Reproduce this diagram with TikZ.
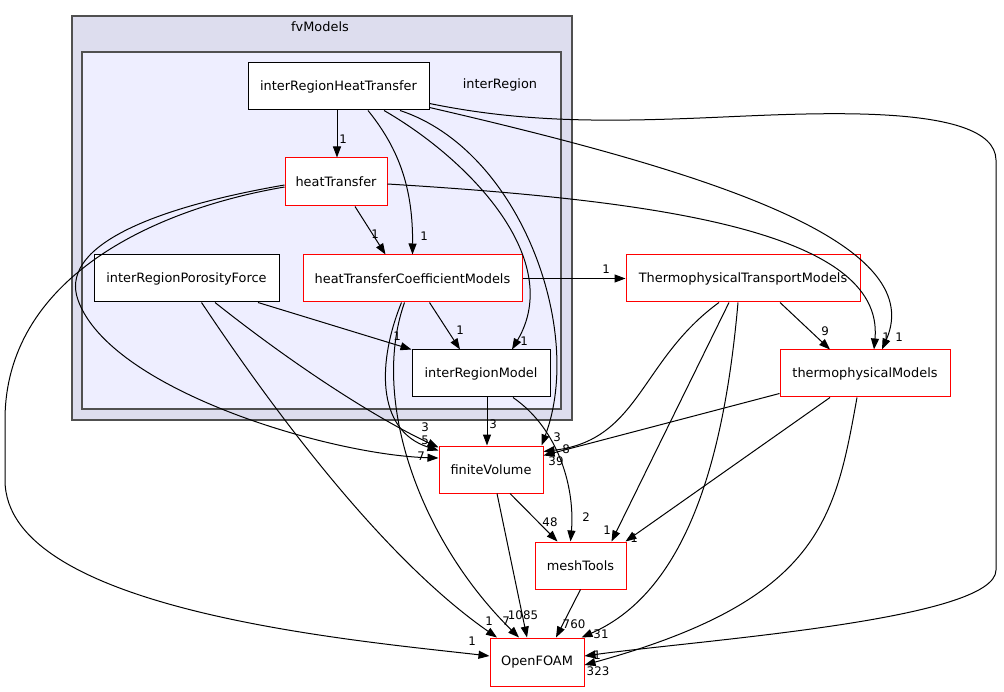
\documentclass[tikz,border=0pt]{standalone}
\usepackage{fontspec}
\setmainfont{DejaVu Sans}
\usetikzlibrary{arrows.meta,calc}
\definecolor{outerfill}{HTML}{DDDDEE}
\definecolor{innerfill}{HTML}{EEEEFF}
\definecolor{clusline}{HTML}{505050}
\begin{document}
\begin{tikzpicture}[x=1pt,y=-1pt,
 box/.style={draw=black,fill=white,line width=1pt,inner sep=0pt,font=\fontsize{12.9}{14}\selectfont},
 rbox/.style={box,draw=red},
 edge/.style={line width=1pt,-{Triangle[length=11pt,width=8pt]}},
 lbl/.style={font=\fontsize{11.8}{13}\selectfont,inner sep=0pt},
 clus/.style={draw=clusline,line width=1.5pt},
 clab/.style={font=\fontsize{12.9}{14}\selectfont,inner sep=0pt}]
\useasboundingbox (0,0) rectangle (1004,692);
% clusters
\draw[clus,fill=outerfill] (72,16) rectangle (572,420);
\node[clab] (fvm) at (320,27) {fvModels};
\draw[clus,fill=innerfill] (82,52) rectangle (561,409);
\node[clab] (ir) at (500,85) {interRegion};
% nodes
\node[box,minimum width=181pt,minimum height=47pt] (irht) at (338.5,86.5) {interRegionHeatTransfer};
\node[rbox,minimum width=102pt,minimum height=48pt] (ht) at (336,182) {heatTransfer};
\node[box,minimum width=185pt,minimum height=47pt] (irpf) at (186.5,278.5) {interRegionPorosityForce};
\node[rbox,minimum width=219pt,minimum height=47pt] (htcm) at (412.5,278.5) {heatTransferCoefficientModels};
\node[box,minimum width=138pt,minimum height=47pt] (irm) at (481,373.5) {interRegionModel};
\node[rbox,minimum width=234pt,minimum height=47pt] (ttm) at (743,278.5) {ThermophysicalTransportModels};
\node[rbox,minimum width=170pt,minimum height=47pt] (tm) at (865,373.5) {thermophysicalModels};
\node[rbox,minimum width=104pt,minimum height=47pt] (fv) at (491,469.5) {finiteVolume};
\node[rbox,minimum width=91pt,minimum height=47pt] (mt) at (580.5,565.5) {meshTools};
\node[rbox,minimum width=94pt,minimum height=48pt] (of) at (537,662) {OpenFOAM};
% edges from interRegionHeatTransfer
\draw[edge] ([xshift=-1.5pt]irht.south) -- ([xshift=1pt]ht.north);
\node[lbl] (l1) at (343,139) {1};
\draw[edge] ([xshift=29.5pt]irht.south) .. controls (400,150) and (413,190) .. (htcm.north);
\node[lbl] (l2) at (424,236) {1};
\draw[edge] ([xshift=45.5pt]irht.south) .. controls (470,160) and (565,260) .. ([xshift=31pt]irm.north);
\node[lbl] (l3) at (524,341) {1};
\draw[edge] ([xshift=61.5pt]irht.south) .. controls (520,150) and (585,330) .. ([xshift=-2pt]fv.north east);
\node[lbl] (l4) at (557,437) {3};
\draw[edge] ([yshift=-21pt]irht.east) .. controls (700,170) and (930,240) .. ([xshift=17pt]tm.north);
\node[lbl] (l5) at (899,337) {1};
\draw[edge] ([yshift=-17pt]irht.east) .. controls (520,122) and (600,122) .. (700,118)
  .. controls (800,114) and (995,100) .. (996,160) -- (996,570)
  .. controls (996,620) and (700,640) .. ([yshift=6pt]of.east);
\node[lbl] (l6) at (597,655) {1};
% edges from heatTransfer
\draw[edge] ([xshift=19pt]ht.south) -- ([xshift=-27pt]htcm.north);
\node[lbl] (l7) at (375,234) {1};
\draw[edge] ([yshift=-2pt]ht.east) .. controls (650,200) and (885,230) .. ([xshift=9pt]tm.north);
\node[lbl] (l8) at (886,337) {1};
\draw[edge] ([yshift=-3pt]ht.west) .. controls (140,210) and (60,250) .. (78,300)
  .. controls (110,390) and (330,455) .. ([yshift=11.5pt]fv.west);
\node[lbl] (l9) at (421,456) {7};
\draw[edge] ([yshift=-5pt]ht.west) .. controls (150,210) and (5,280) .. (5,420) -- (5,480)
  .. controls (5,610) and (350,640) .. ([yshift=6pt]of.west);
\node[lbl] (l10) at (472,641) {1};
% edges from interRegionPorosityForce
\draw[edge] ([xshift=71.5pt]irpf.south) -- (irm.north west);
\node[lbl] (l11) at (397,336) {1};
\draw[edge] ([xshift=28.5pt]irpf.south) .. controls (300,370) and (380,420) .. ([yshift=-2pt]fv.north west);
\node[lbl] (l12) at (425,427) {3};
\draw[edge] ([xshift=15pt]irpf.south) .. controls (300,450) and (400,570) .. ([xshift=-40pt]of.north);
\node[lbl] (l13) at (489,621) {1};
% edges from heatTransferCoefficientModels
\draw[edge] (htcm.east) -- (ttm.west);
\node[lbl] (l14) at (606,269) {1};
\draw[edge] ([xshift=17pt]htcm.south) -- ([xshift=-21pt]irm.north);
\node[lbl] (l15) at (460,330) {1};
\draw[edge] ([xshift=-11pt]htcm.south) .. controls (378,360) and (375,430) .. ([yshift=-5pt]fv.north west);
\node[lbl] (l16) at (425,440) {5};
\draw[edge] ([xshift=-8pt]htcm.south) .. controls (370,400) and (420,540) .. ([xshift=-18pt]of.north);
\node[lbl] (l17) at (506,621) {7};
% edges from ThermophysicalTransportModels
\draw[edge] ([xshift=37pt]ttm.south) -- ([xshift=-35pt]tm.north);
\node[lbl] (l18) at (825,331) {9};
\draw[edge] ([xshift=-24pt]ttm.south) .. controls (640,360) and (640,440) .. ([yshift=-6pt]fv.north east);
\node[lbl] (l19) at (566,449) {8};
\draw[edge] ([xshift=-14pt]ttm.south) -- ([xshift=31pt]mt.north);
\node[lbl] (l20) at (607,530) {1};
\draw[edge] ([xshift=-5pt]ttm.south) .. controls (725,450) and (690,590) .. ([xshift=-3pt]of.north east);
\node[lbl] (l21) at (601,634) {31};
% edges from thermophysicalModels
\draw[edge] ([yshift=-20pt]tm.west) -- ([yshift=-10pt]fv.north east);
\node[lbl] (l22) at (556,461) {39};
\draw[edge] ([xshift=-35pt]tm.south) -- ([xshift=45pt]mt.north);
\node[lbl] (l23) at (634,538) {1};
\draw[edge] ([xshift=-8pt]tm.south) .. controls (835,520) and (820,600) .. ([yshift=-3pt]of.east);
\node[lbl] (l24) at (598,671) {323};
% edges from interRegionModel
\draw[edge] ([xshift=6pt]irm.south) -- ([xshift=-4pt]fv.north);
\node[lbl] (l25) at (493,424) {3};
\draw[edge] ([xshift=32pt]irm.south) .. controls (560,430) and (575,490) .. ([xshift=-10pt]mt.north);
\node[lbl] (l26) at (586,517) {2};
% edges from finiteVolume and meshTools
\draw[edge] ([xshift=19pt]fv.south) -- ([xshift=-23pt]mt.north);
\node[lbl] (l27) at (550,522) {48};
\draw[edge] ([xshift=6pt]fv.south) -- ([xshift=-10pt]of.north);
\node[lbl] (l28) at (523,615) {1085};
\draw[edge] (mt.south) -- ([xshift=19pt]of.north);
\node[lbl] (l29) at (574,624) {760};
\end{tikzpicture}
\end{document}
